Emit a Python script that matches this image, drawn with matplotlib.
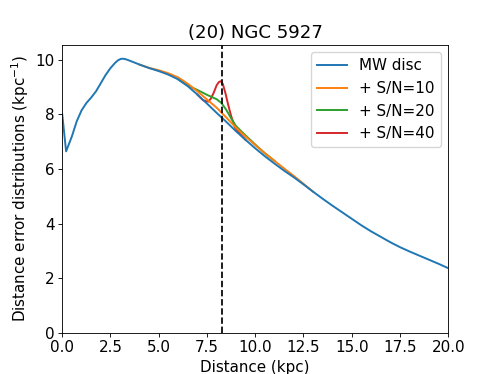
import numpy as np
import matplotlib
matplotlib.use("Agg")
import matplotlib.pyplot as plt

# values (kpc, kpc^-1)
dist = [0.0, 0.2, 0.5, 0.75, 1.0, 1.25, 1.5, 1.75, 2.0, 2.25, 2.5, 2.75,
        2.9, 3.05, 3.2, 3.35, 3.5, 3.75, 4.0, 4.5, 5.0, 5.5, 6.0, 6.5, 7.0, 7.5, 8.0,
        8.5, 9.0, 9.5, 10.0, 10.5, 11.0, 11.5, 12.0, 12.5, 13.0, 13.5, 14.0,
        14.5, 15.0, 15.5, 16.0, 16.5, 17.0, 17.5, 18.0, 18.5, 19.0, 19.5, 20.0]
mw_disc = [8.0, 6.65, 7.2, 7.75, 8.15, 8.42, 8.62, 8.85, 9.15, 9.45, 9.70, 9.90,
           9.99, 10.04, 10.04, 10.01, 9.97, 9.90, 9.83, 9.70, 9.59, 9.46, 9.29, 9.04, 8.73, 8.40, 8.06,
           7.73, 7.39, 7.07, 6.76, 6.47, 6.20, 5.94, 5.70, 5.44, 5.17, 4.91, 4.66,
           4.42, 4.18, 3.94, 3.72, 3.52, 3.32, 3.14, 2.98, 2.83, 2.68, 2.53, 2.37]

sn10_x = [4.0, 4.5, 5.0, 5.5, 6.0, 6.5, 7.0, 7.5, 8.0, 8.5, 9.0, 9.5, 10.0,
          10.5, 11.0, 11.5, 12.0, 12.5, 13.0]
sn10_y = [9.83, 9.71, 9.62, 9.51, 9.36, 9.13, 8.85, 8.55, 8.25, 7.89, 7.52, 7.19, 6.88,
          6.58, 6.30, 6.02, 5.75, 5.46, 5.17]

sn20_x = [6.0, 6.5, 7.0, 7.5, 8.0, 8.25, 8.5, 8.75, 9.0, 9.5, 10.0, 10.5, 11.0]
sn20_y = [9.29, 9.06, 8.90, 8.72, 8.56, 8.42, 8.17, 7.86, 7.58, 7.23, 6.90, 6.58, 6.30]

sn40_x = [7.0, 7.3, 7.57, 7.7, 7.85, 8.0, 8.12, 8.22, 8.32, 8.45, 8.6, 8.75,
          8.95, 9.2, 9.5]
sn40_y = [8.73, 8.52, 8.47, 8.58, 8.80, 9.07, 9.19, 9.22, 9.12, 8.80, 8.35, 7.95,
          7.52, 7.30, 7.07]

gc_dist = 8.27

s = 0.778  # reference was drawn at ~78 dpi
fs = 14 * s

fig, ax = plt.subplots(figsize=(4.98, 3.74), dpi=100)
lw = 1.8 * s
l40, = ax.plot(sn40_x, sn40_y, color="tab:red", lw=lw, label="+ S/N=40")
l20, = ax.plot(sn20_x, sn20_y, color="tab:green", lw=lw, label="+ S/N=20")
l10, = ax.plot(sn10_x, sn10_y, color="tab:orange", lw=lw, label="+ S/N=10")
lmw, = ax.plot(dist, mw_disc, color="tab:blue", lw=lw, label="MW disc")
ax.axvline(gc_dist, color="black", ls="--", lw=1.6 * s)

ax.set_xlim(0, 20)
ax.set_ylim(0, 10.55)
ax.set_xlabel("Distance (kpc)", fontsize=fs, labelpad=4 * s)
ax.set_ylabel("Distance error distributions (kpc$^{-1}$)", fontsize=fs, labelpad=4 * s)
ax.set_title("(20) NGC 5927", fontsize=16.8 * s, pad=6 * s)
ax.tick_params(labelsize=fs, length=3.5 * s, width=0.8 * s, pad=3.5 * s)
for sp in ax.spines.values():
    sp.set_linewidth(0.8 * s)

ax.legend(handles=[lmw, l10, l20, l40], loc="upper right", fontsize=fs)

fig.savefig("out.png", dpi=100)
